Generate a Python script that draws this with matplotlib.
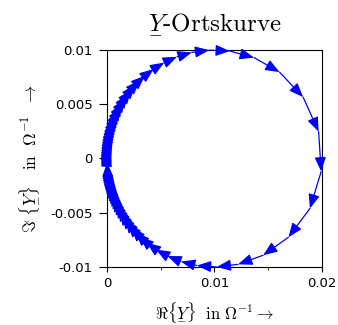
import matplotlib
matplotlib.use("Agg")
import matplotlib.pyplot as plt

plt.rcParams['mathtext.fontset'] = 'cm'

# Ortskurve points (Re, Im in 1/Ohm), in traversal order
# upper half (Im > 0), from the origin towards the right
y_re_up = [0.0000069, 0.0000154, 0.0000274, 0.0000428, 0.0000615, 0.000084,
           0.000111, 0.000143, 0.00018, 0.000224, 0.000273, 0.000332, 0.0004,
           0.000471, 0.000555, 0.000654, 0.000769, 0.000903, 0.001054,
           0.001234, 0.001433, 0.001682, 0.001953, 0.002262, 0.002648,
           0.003044, 0.00353, 0.004338, 0.005325, 0.006507, 0.007881,
           0.009512, 0.011429, 0.013676, 0.016051, 0.018246, 0.019687]
y_im_up = [0.00037, 0.000555, 0.00074, 0.000924, 0.001108, 0.001293,
           0.001484, 0.001683, 0.001888, 0.002104, 0.002321, 0.002554, 0.0028,
           0.003032, 0.003285, 0.003556, 0.003846, 0.004152, 0.004468,
           0.004812, 0.005158, 0.005551, 0.005937, 0.006335, 0.006778,
           0.007185, 0.007625, 0.008243, 0.00884, 0.00937, 0.009773,
           0.009988, 0.009897, 0.0093, 0.007961, 0.005656, 0.002481]
# lower half (Im < 0), from the right back towards the origin
y_re_dn = [0.019928, 0.018876, 0.016879, 0.014524, 0.012195, 0.010202,
           0.00836, 0.006886, 0.005618, 0.00456, 0.003697, 0.003044,
           0.002648, 0.002262, 0.001953, 0.001682, 0.001433, 0.001234,
           0.001054, 0.000903, 0.000769, 0.000654, 0.000555, 0.000471, 0.0004,
           0.000332, 0.000273, 0.000224, 0.00018, 0.000143, 0.000111,
           0.000084, 0.0000615, 0.0000428, 0.0000274, 0.0000154, 0.0000069]
y_im_dn = [-0.001196, -0.004606, -0.007258, -0.008918, -0.009756, -0.009998,
           -0.009865, -0.009503, -0.008989, -0.008391, -0.007763, -0.007185,
           -0.006778, -0.006335, -0.005937, -0.005551, -0.005158, -0.004812,
           -0.004468, -0.004152, -0.003846, -0.003556, -0.003285, -0.003032,
           -0.0028, -0.002554, -0.002321, -0.002104, -0.001888, -0.001683,
           -0.001484, -0.001293, -0.001108, -0.000924, -0.00074, -0.000555,
           -0.00037]

x_ticks = [0, 0.01, 0.02]
x_labels = ['0', '0.01', '0.02']
y_ticks = [-0.01, -0.005, 0, 0.005, 0.01]
y_labels = ['-0.01', '-0.005', '0', '0.005', '0.01']

y_re = y_re_up + y_re_dn
y_im = y_im_up + y_im_dn

fig = plt.figure(figsize=(3.38, 3.25), dpi=100)
ax = fig.add_axes([0.3166, 0.1785, 0.636, 0.6677])

for i in range(len(y_re) - 1):
    ax.annotate('', xy=(y_re[i + 1], y_im[i + 1]), xytext=(y_re[i], y_im[i]),
                arrowprops=dict(arrowstyle='-|>,head_length=0.48,head_width=0.19',
                                color='b', lw=0.9, mutation_scale=18,
                                shrinkA=0, shrinkB=0))

ax.set_xlim(0, 0.02)
ax.set_ylim(-0.01, 0.01)
ax.set_xticks(x_ticks)
ax.set_xticklabels(x_labels, fontsize=9.5)
ax.set_xticks([0.005, 0.015], minor=True)
ax.set_yticks(y_ticks)
ax.set_yticklabels(y_labels, fontsize=9.5)
ax.tick_params(direction='out', top=False, right=False)
ax.tick_params(axis='y', length=6, pad=4.5)
ax.tick_params(which='minor', length=2)

uy = r'\underset{-}{Y}'
ax.set_title('$' + uy + '$-Ortskurve', fontsize=18, family='cmr10', pad=16)
ax.set_xlabel(r'$\Re\{' + uy + r'\}\ \ \mathrm{in}\ \Omega^{-1}\rightarrow$',
              fontsize=12, labelpad=8)
ax.set_ylabel(r'$\Im\ \{' + uy + r'\}\ \ \ \mathrm{in}\ \ \Omega^{-1}\ \ \rightarrow$',
              fontsize=12.5, labelpad=8)

fig.savefig('out.png', dpi=100)
